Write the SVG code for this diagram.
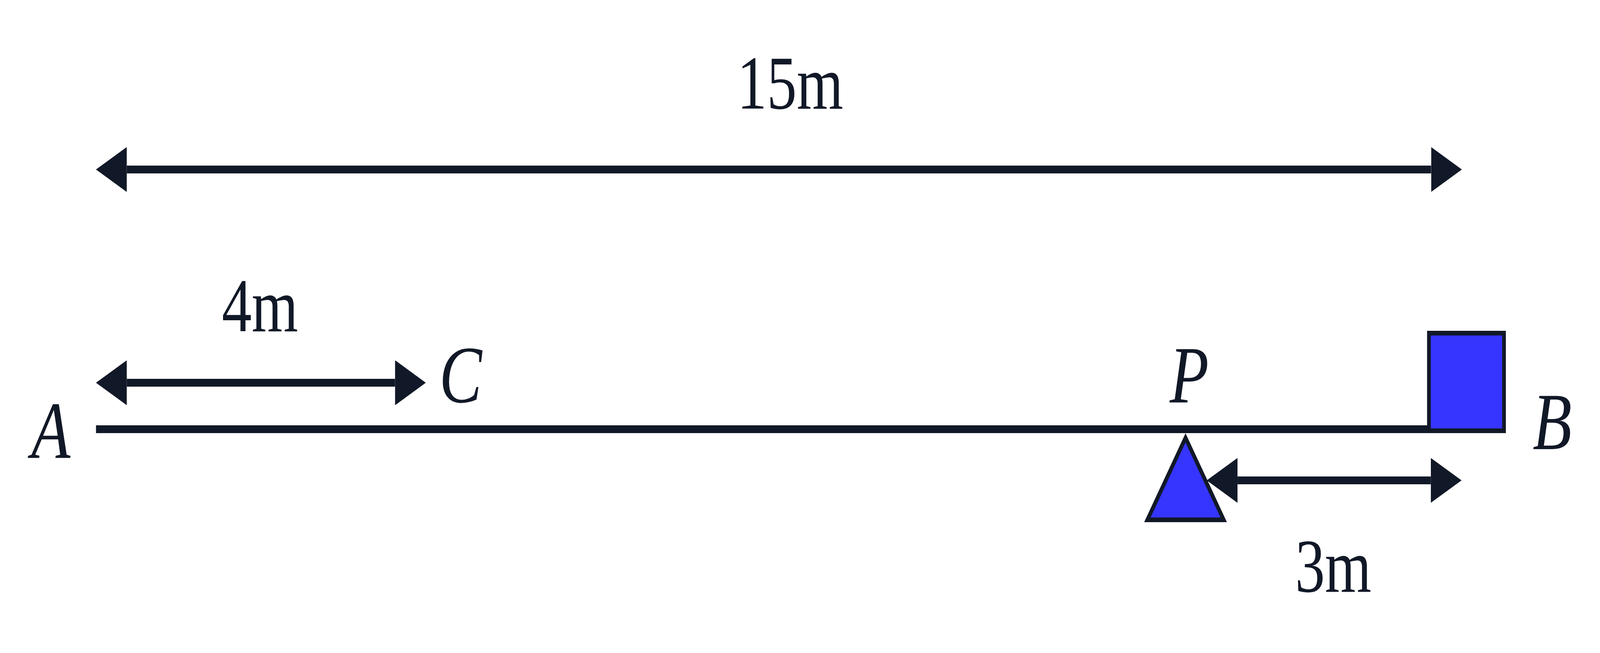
<svg xmlns="http://www.w3.org/2000/svg" width="5200" height="1672" viewBox="0 0 5200 1672" preserveAspectRatio="none" style="width:100vw;height:100vh">
  <style>
    .ink { fill: #111827; }
    .dim { stroke: #111827; stroke-width: 20; fill: none; }
    .num { font-family: "Liberation Serif", "DejaVu Serif", serif; font-size: 194px; fill: #111827; text-anchor: middle; }
    .var { font-family: "Liberation Serif", "DejaVu Serif", serif; font-style: italic; font-size: 208px; fill: #111827; text-anchor: middle; }
    .solid { fill: #3535ff; stroke: #111827; stroke-width: 12; }
  </style>
  <defs>
    <marker id="head" viewBox="0 0 100 115" refX="0" refY="57.5" markerWidth="100" markerHeight="115" markerUnits="userSpaceOnUse" orient="auto-start-reverse">
      <path d="M0,0 L100,57.5 L0,115 Z" fill="#111827"/>
    </marker>
  </defs>
  <rect width="5200" height="1672" fill="#ffffff"/>

  <g id="beam">
    <rect x="312" y="1089" width="4582" height="20" class="ink"/>
  </g>

  <g id="block">
    <rect x="4644" y="853" width="244" height="250" class="solid"/>
  </g>

  <g id="support">
    <polygon points="3853,1121 3729,1331 3977,1331" class="solid" stroke-linejoin="miter"/>
  </g>

  <g id="connectors">
    <line x1="412" y1="434" x2="4651" y2="434" class="dim" marker-start="url(#head)" marker-end="url(#head)"/>
    <line x1="412" y1="980" x2="1284" y2="980" class="dim" marker-start="url(#head)" marker-end="url(#head)"/>
    <line x1="4022" y1="1230" x2="4650" y2="1230" class="dim" marker-start="url(#head)" marker-end="url(#head)"/>
  </g>

  <g id="labels">
    <text class="num" x="2568" y="278">15m</text>
    <text class="num" x="845" y="848">4m</text>
    <text class="num" x="4333" y="1515">3m</text>
    <text class="var" x="165" y="1172">A</text>
    <text class="var" x="1497" y="1030">C</text>
    <text class="var" x="3865" y="1030">P</text>
    <text class="var" x="5045" y="1150">B</text>
  </g>
</svg>
